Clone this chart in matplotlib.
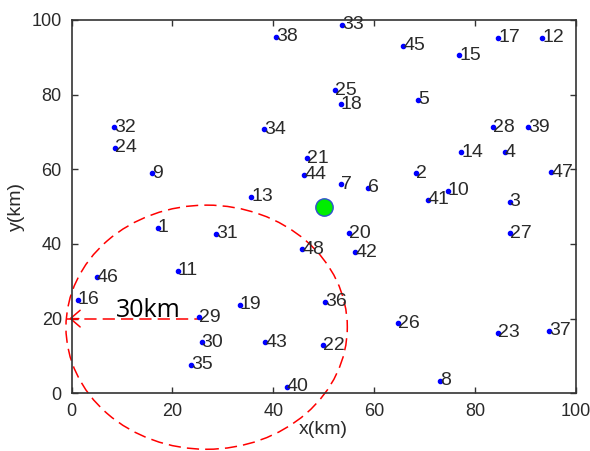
import matplotlib
matplotlib.use("Agg")
import matplotlib.pyplot as plt
from matplotlib.patches import Ellipse

# ---- data ----
labels = list(range(1, 49))
xs = [17.1, 68.3, 86.9, 85.9, 68.8, 58.8, 53.5, 73.1, 15.9, 74.6,
      21.1, 93.4, 35.6, 77.3, 76.9, 1.2, 84.6, 53.4, 33.4, 55.1,
      46.7, 49.8, 84.6, 8.6, 52.3, 64.8, 86.9, 83.6, 25.3, 25.8,
      28.7, 8.5, 53.7, 38.2, 23.7, 50.3, 94.7, 40.6, 90.5, 42.7,
      70.7, 56.3, 38.4, 46.2, 65.8, 5.0, 95.1, 45.8]
ys = [44.4, 58.9, 51.3, 64.6, 78.6, 55.1, 56.0, 3.4, 58.9, 54.3,
      32.8, 95.3, 52.7, 64.6, 90.6, 25.0, 95.3, 77.4, 23.7, 42.9,
      63.0, 12.9, 16.2, 65.8, 81.2, 18.7, 42.9, 71.2, 20.3, 13.7,
      42.7, 71.2, 98.7, 70.7, 7.6, 24.5, 16.7, 95.5, 71.2, 1.8,
      51.8, 37.8, 13.7, 58.5, 93.1, 31.1, 59.2, 38.6]
center = (50, 50)
ticks = [0, 20, 40, 60, 80, 100]

# annotation geometry (data units)
ell_center = (26.8, 17.7)
ell_w, ell_h = 55.8, 65.4
arrow_y = 20
arrow_x_tip = -1.0
arrow_x_end = 26.0
text_pos = (8.8, 20.3)

fig = plt.figure(figsize=(5.9, 4.51), dpi=100)
ax = fig.add_axes([0.1212, 0.128, 0.8546, 0.8277])

ax.plot(xs, ys, '.', color='blue', markersize=6, zorder=3)
for lab, x, y in zip(labels, xs, ys):
    ax.text(x, y, str(lab), ha='left', va='center', fontsize=14,
            family='Liberation Sans', color='#2a2a2a', zorder=4)

ax.plot([center[0]], [center[1]], 'o', markersize=12.5, markerfacecolor='#00ee00',
        markeredgecolor='#3050d0', markeredgewidth=1.0, zorder=5)

ell = Ellipse(ell_center, ell_w, ell_h, fill=False, edgecolor='red', lw=1.1,
              linestyle=(0, (8, 4)), clip_on=False, zorder=2)
ax.add_patch(ell)

ax.plot([arrow_x_tip, arrow_x_end], [arrow_y, arrow_y], color='red', lw=1.1,
        linestyle=(0, (8, 4)), clip_on=False, zorder=2)
ax.annotate('', xy=(arrow_x_tip, arrow_y), xytext=(arrow_x_tip + 3, arrow_y),
            arrowprops=dict(arrowstyle='->,head_length=0.7,head_width=0.6',
                            color='red', lw=1.1, mutation_scale=10),
            annotation_clip=False, zorder=2)

ax.text(text_pos[0], text_pos[1], '30km', ha='left', va='baseline', fontsize=18,
        family='Open Sans', color='black', zorder=6)

ax.set_xlim(0, 100)
ax.set_ylim(0, 100)
ax.set_xticks(ticks)
ax.set_yticks(ticks)
ax.tick_params(direction='in', length=4, width=1, top=True, right=True,
               labelsize=13, colors='#333333', labelcolor='#2a2a2a', pad=7)
for lab in ax.get_xticklabels() + ax.get_yticklabels():
    lab.set_family('Liberation Sans')
for sp in ax.spines.values():
    sp.set_color('#333333')
    sp.set_linewidth(1.2)

ax.set_xlabel('x(km)', fontsize=14, family='Liberation Sans', color='#2a2a2a', labelpad=1)
ax.set_ylabel('y(km)', fontsize=14, family='Liberation Sans', color='#2a2a2a', labelpad=5)

fig.savefig('out.png', dpi=100)
